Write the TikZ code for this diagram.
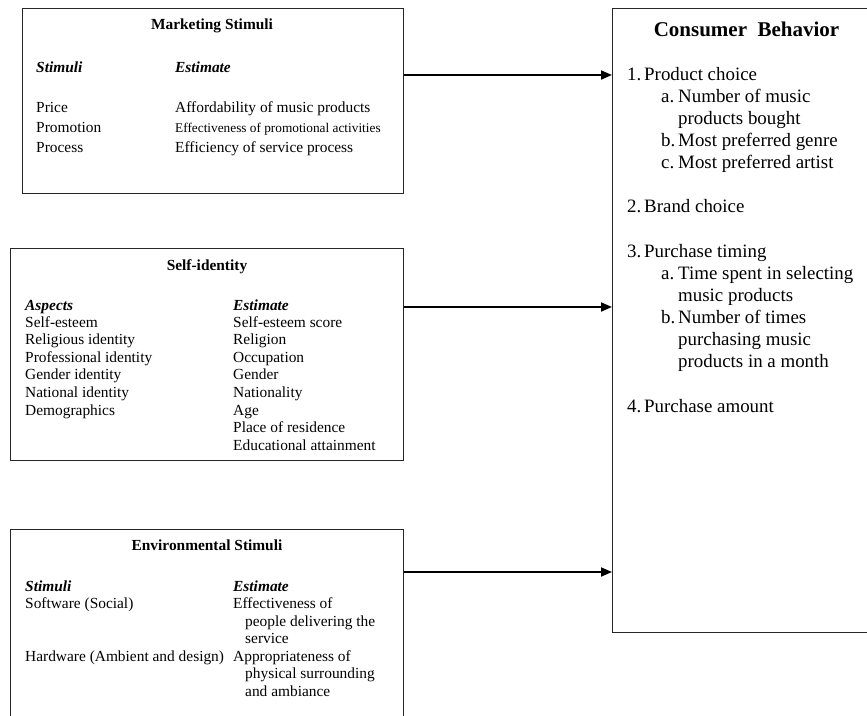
\documentclass[tikz,border=0pt]{standalone}
\usepackage{fontspec}
\setmainfont{Liberation Serif}
\usetikzlibrary{arrows.meta}
\begin{document}
\begin{tikzpicture}[x=1pt,y=-1pt,
  box/.style={draw=black!85, line width=1.1pt, inner sep=0, anchor=north west},
  tx/.style={anchor=base west, inner sep=0, font=\fontsize{15.4}{17.6}\selectfont},
  txs/.style={anchor=base west, inner sep=0, font=\fontsize{13.3}{15}\selectfont},
  ttl/.style={anchor=base, inner sep=0, font=\bfseries\fontsize{15.4}{17.6}\selectfont},
  hd/.style={anchor=base west, inner sep=0, font=\bfseries\itshape\fontsize{15.4}{17.6}\selectfont},
  cbt/.style={anchor=base west, inner sep=0, font=\fontsize{18.9}{22}\selectfont},
  arr/.style={-{Triangle[length=11pt,width=9pt]}, line width=1.8pt}
]
\useasboundingbox (0,0) rectangle (867,715);
\clip (0,0) rectangle (867,715);
\fill[white] (0,0) rectangle (867,715);

% boxes
\node[box, minimum width=381, minimum height=185] (ms) at (22,8) {};
\node[box, minimum width=393, minimum height=212] (si) at (10,248) {};
\node[box, minimum width=393, minimum height=210] (es) at (10,529) {};
\node[box, minimum width=275, minimum height=624] (cb) at (612,8) {};

% Marketing Stimuli
\node[ttl] (mst) at (212,29) {Marketing Stimuli};
\node[hd] (msh1) at (36,72.5) {Stimuli};
\node[hd] (msh2) at (175,72.5) {Estimate};
\node[tx] (ms1) at (36,112) {Price};
\node[tx] (ms2) at (36,132) {Promotion};
\node[tx] (ms3) at (36,152) {Process};
\node[tx] (me1) at (175,112) {Affordability of music products};
\node[txs] (me2) at (175,132) {Effectiveness of promotional activities};
\node[tx] (me3) at (175,152) {Efficiency of service process};

% Self-identity
\node[ttl] (sit) at (207,270) {Self-identity};
\node[hd] (sih1) at (25,310) {Aspects};
\node[hd] (sih2) at (233,310) {Estimate};
\node[tx] (sa1) at (25,327) {Self-esteem};
\node[tx] (sa2) at (25,344.6) {Religious identity};
\node[tx] (sa3) at (25,362.2) {Professional identity};
\node[tx] (sa4) at (25,379.8) {Gender identity};
\node[tx] (sa5) at (25,397.4) {National identity};
\node[tx] (sa6) at (25,415) {Demographics};
\node[tx] (se1) at (233,327) {Self-esteem score};
\node[tx] (se2) at (233,344.6) {Religion};
\node[tx] (se3) at (233,362.2) {Occupation};
\node[tx] (se4) at (233,379.8) {Gender};
\node[tx] (se5) at (233,397.4) {Nationality};
\node[tx] (se6) at (233,415) {Age};
\node[tx] (se7) at (233,432.6) {Place of residence};
\node[tx] (se8) at (233,450.2) {Educational attainment};

% Environmental Stimuli
\node[ttl] (est) at (207,550) {Environmental Stimuli};
\node[hd] (esh1) at (25,591) {Stimuli};
\node[hd] (esh2) at (233,591) {Estimate};
\node[tx] (es1) at (25,608.5) {Software (Social)};
\node[tx] (es2) at (25,661) {Hardware (Ambient and design)};
\node[tx] (ee1) at (233,608.5) {Effectiveness of};
\node[tx] (ee1b) at (245,626) {people delivering the};
\node[tx] (ee1c) at (245,643.5) {service};
\node[tx] (ee2) at (233,661) {Appropriateness of};
\node[tx] (ee2b) at (245,678.5) {physical surrounding};
\node[tx] (ee2c) at (245,696) {and ambiance};

% Consumer Behavior
\node[anchor=base, inner sep=0, font=\bfseries\fontsize{21}{24}\selectfont] (cbt0) at (746.5,36) {Consumer\ \ Behavior};
\node[cbt] (n1) at (627,80) {1.};
\node[cbt] (c1) at (644,80) {Product choice};
\node[cbt] (n1a) at (661,102) {a.};
\node[cbt] (c1a) at (678,102) {Number of music};
\node[cbt] (c1a2) at (678,124) {products bought};
\node[cbt] (n1b) at (661,146) {b.};
\node[cbt] (c1b) at (678,146) {Most preferred genre};
\node[cbt] (n1c) at (661,168) {c.};
\node[cbt] (c1c) at (678,168) {Most preferred artist};
\node[cbt] (n2) at (627,212) {2.};
\node[cbt] (c2) at (644,212) {Brand choice};
\node[cbt] (n3) at (627,257) {3.};
\node[cbt] (c3) at (644,257) {Purchase timing};
\node[cbt] (n3a) at (661,279) {a.};
\node[cbt] (c3a) at (678,279) {Time spent in selecting};
\node[cbt] (c3a2) at (678,301) {music products};
\node[cbt] (n3b) at (661,323) {b.};
\node[cbt] (c3b) at (678,323) {Number of times};
\node[cbt] (c3b2) at (678,345) {purchasing music};
\node[cbt] (c3b3) at (678,367) {products in a month};
\node[cbt] (n4) at (627,412) {4.};
\node[cbt] (c4) at (644,412) {Purchase amount};

% connectors
\coordinate (y1) at (0,75);
\coordinate (y2) at (0,307);
\coordinate (y3) at (0,572);
\draw[arr] (ms.east |- y1) -- (cb.west |- y1);
\draw[arr] (si.east |- y2) -- (cb.west |- y2);
\draw[arr] (es.east |- y3) -- (cb.west |- y3);
\end{tikzpicture}
\end{document}
